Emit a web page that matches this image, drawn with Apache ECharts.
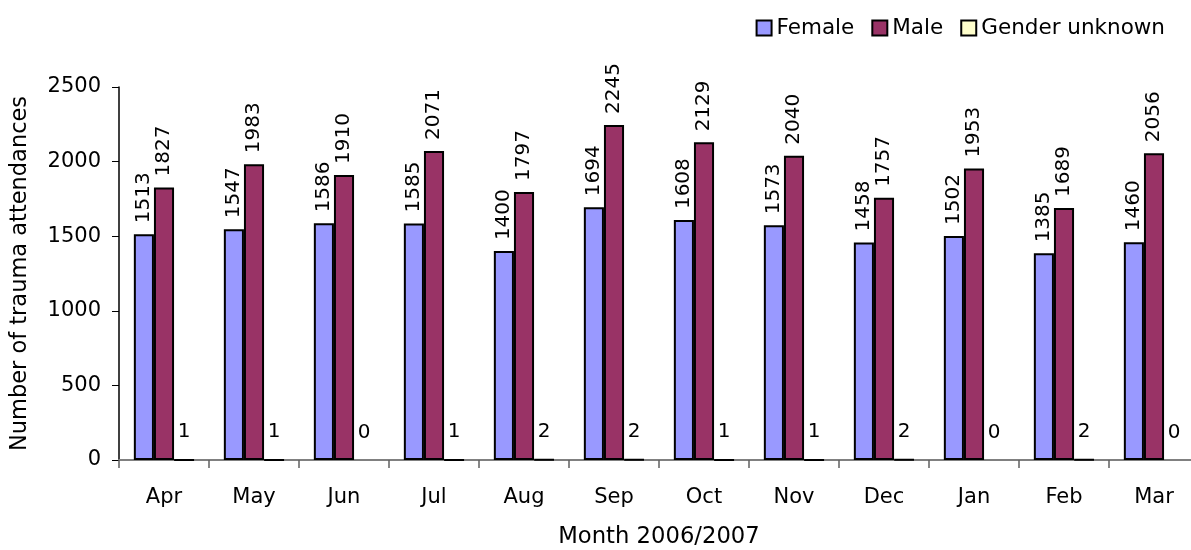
<!DOCTYPE html>
<html>
<head>
<meta charset="utf-8">
<script src="https://cdn.jsdelivr.net/npm/echarts@6/dist/echarts.min.js"></script>
<style>
    html, body { margin: 0; padding: 0; background: #fff; }
    #chart { width: 1191px; height: 550px; }
</style>
</head>
<body>
<div id="chart"></div>
<script>
const months = ['Apr', 'May', 'Jun', 'Jul', 'Aug', 'Sep', 'Oct', 'Nov', 'Dec', 'Jan', 'Feb', 'Mar'];
const female = [1513, 1547, 1586, 1585, 1400, 1694, 1608, 1573, 1458, 1502, 1385, 1460];
const male = [1827, 1983, 1910, 2071, 1797, 2245, 2129, 2040, 1757, 1953, 1689, 2056];
const unknown = [1, 1, 0, 1, 2, 2, 1, 1, 2, 0, 2, 0];

const fontFamily = '"DejaVu Sans", Verdana, sans-serif';

const rotatedLabel = {
    show: true,
    position: 'top',
    rotate: 90,
    align: 'left',
    verticalAlign: 'middle',
    distance: 11,
    fontSize: 20,
    color: '#000',
    fontFamily: fontFamily
};

// zero-height bars get no outline
let unknownData = unknown.map(v => ({
    value: v,
    itemStyle: {borderWidth: v === 0 ? 0 : 2}
}));

let option = {
    animation: false,
    textStyle: {fontFamily: fontFamily},
    legend: {
        top: 12,
        right: 21,
        icon: 'rect',
        itemWidth: 15,
        itemHeight: 15,
        itemGap: 17,
        textStyle: {fontSize: 21.5, color: '#000', fontFamily: fontFamily},
        data: ['Female', 'Male', 'Gender unknown']
    },
    grid: {
        left: 119,
        top: 87,
        width: 1080,
        height: 373,
        outerBoundsMode: 'none'
    },
    xAxis: {
        type: 'category',
        data: months,
        name: 'Month 2006/2007',
        nameLocation: 'middle',
        nameGap: 66,
        nameTextStyle: {fontSize: 22.7, color: '#000'},
        axisLine: {lineStyle: {color: '#808080', width: 2}},
        axisTick: {show: true, length: 8, lineStyle: {color: '#606060', width: 1.5}},
        axisLabel: {fontSize: 21, color: '#000', margin: 27}
    },
    yAxis: {
        type: 'value',
        min: 0,
        max: 2500,
        interval: 500,
        name: 'Number of trauma attendances',
        nameLocation: 'middle',
        nameGap: 87,
        nameTextStyle: {fontSize: 22.5, color: '#000'},
        splitLine: {show: false},
        axisLine: {show: true, lineStyle: {color: '#000', width: 1.5}},
        axisTick: {show: true, length: 7, lineStyle: {color: '#000'}},
        axisLabel: {fontSize: 21, color: '#000', margin: 18, formatter: v => String(v)}
    },
    series: [
        {
            name: 'Female',
            type: 'bar',
            data: female,
            barGap: '0%',
            barCategoryGap: '33%',
            itemStyle: {color: '#9999FF', borderColor: '#000', borderWidth: 2},
            label: rotatedLabel
        },
        {
            name: 'Male',
            type: 'bar',
            data: male,
            itemStyle: {color: '#993366', borderColor: '#000', borderWidth: 2},
            label: rotatedLabel
        },
        {
            name: 'Gender unknown',
            type: 'bar',
            data: unknownData,
            itemStyle: {color: '#FFFFCC', borderColor: '#000', borderWidth: 2},
            label: {
                show: true,
                position: 'top',
                distance: 17,
                fontSize: 20,
                color: '#000',
                fontFamily: fontFamily
            }
        }
    ]
};

let myChart = echarts.init(document.querySelector('#chart'));
myChart.setOption(option);
</script>
</body>
</html>
